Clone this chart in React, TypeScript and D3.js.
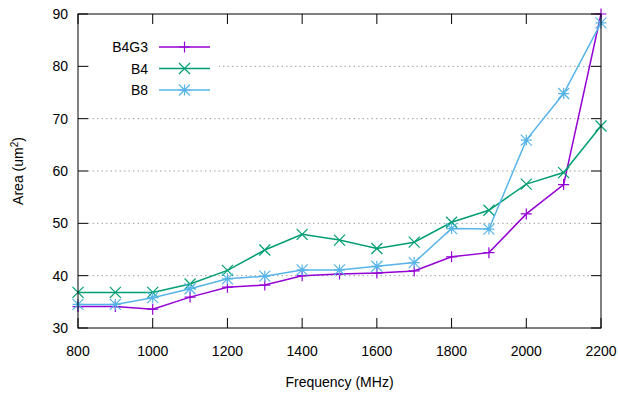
import React from "react";
import * as d3 from "d3";

const freqs = [800, 900, 1000, 1100, 1200, 1300, 1400, 1500, 1600, 1700, 1800, 1900, 2000, 2100, 2200];
const b4g3 = [34.1, 34.1, 33.6, 35.9, 37.8, 38.2, 40.0, 40.3, 40.5, 40.9, 43.6, 44.4, 51.8, 57.4, 90.0];
const b4 = [36.8, 36.8, 36.8, 38.4, 41.0, 44.9, 47.9, 46.8, 45.2, 46.4, 50.2, 52.5, 57.5, 59.7, 68.6];
const b8 = [34.5, 34.5, 35.8, 37.5, 39.4, 39.9, 41.1, 41.1, 41.8, 42.5, 49.0, 48.9, 65.9, 74.8, 88.3];
const xTicks = [800, 1000, 1200, 1400, 1600, 1800, 2000, 2200];
const yTicks = [30, 40, 50, 60, 70, 80, 90];
const seriesNames = ["B4G3", "B4", "B8"];
const seriesColors = ["#9400d3", "#009e73", "#56b4e9"];
const seriesMarkers = ["plus", "cross", "star"];
const seriesValues = [b4g3, b4, b8];

const W = 618, H = 397;
const left = 78, right = 601, top = 14, bottom = 328;
const font = "Liberation Sans, Arial, sans-serif";
const fs = 14;

function Marker({ kind, x, y, color }: { kind: string; x: number; y: number; color: string }) {
  const s = 5.5;
  const plus = `M${x - s},${y}H${x + s}M${x},${y - s}V${y + s}`;
  const cross = `M${x - s},${y - s}L${x + s},${y + s}M${x - s},${y + s}L${x + s},${y - s}`;
  const d = kind === "plus" ? plus : kind === "cross" ? cross : plus + cross;
  return <path d={d} stroke={color} strokeWidth={1.2} fill="none" />;
}

export default function App() {
  const x = d3.scaleLinear().domain([800, 2200]).range([left, right]);
  const y = d3.scaleLinear().domain([30, 90]).range([bottom, top]);
  const line = d3.line<number>().x((_, i) => x(freqs[i])).y((v) => y(v));
  const tick = 10;
  const legendTextX = 148;
  const legendLineX0 = 159, legendLineX1 = 210;
  const legendY0 = 47, legendDy = 21.5;

  return (
    <svg width={W} height={H} style={{ position: "absolute", left: 0, top: 0, background: "#fff" }} fontFamily={font}>
      {yTicks.slice(1, -1).map((t) => (
        <line key={"g" + t} x1={left + tick} x2={right - tick} y1={y(t)} y2={y(t)}
          stroke="#a0a0a0" strokeWidth={1} strokeDasharray="1.5,3" />
      ))}
      <rect x={left + tick + 1} y={legendY0 - 12} width={legendLineX1 + 8 - left - tick} height={legendDy * 3 + 4} fill="#fff" />
      {yTicks.map((t) => (
        <g key={"yt" + t}>
          <line x1={left} x2={left + tick} y1={y(t)} y2={y(t)} stroke="#000" />
          <line x1={right - tick} x2={right} y1={y(t)} y2={y(t)} stroke="#000" />
          <text x={left - 10} y={y(t) + 5} textAnchor="end" fontSize={fs} fill="#000">{t}</text>
        </g>
      ))}
      {xTicks.map((t) => (
        <g key={"xt" + t}>
          <line x1={x(t)} x2={x(t)} y1={bottom} y2={bottom - tick} stroke="#000" />
          <line x1={x(t)} x2={x(t)} y1={top} y2={top + tick} stroke="#000" />
          <text x={x(t)} y={bottom + 28} textAnchor="middle" fontSize={fs} fill="#000">{t}</text>
        </g>
      ))}
      {seriesValues.map((vals, si) => (
        <g key={"s" + si}>
          <path d={line(vals) || ""} fill="none" stroke={seriesColors[si]} strokeWidth={1.5} />
          {vals.map((v, i) => (
            <Marker key={i} kind={seriesMarkers[si]} x={x(freqs[i])} y={y(v)} color={seriesColors[si]} />
          ))}
        </g>
      ))}
      <rect x={left} y={top} width={right - left} height={bottom - top} fill="none" stroke="#000" strokeWidth={1} />
      {seriesNames.map((n, i) => {
        const ly = legendY0 + i * legendDy;
        return (
          <g key={"l" + n}>
            <text x={legendTextX} y={ly + 5} textAnchor="end" fontSize={fs} fill="#000">{n}</text>
            <line x1={legendLineX0} x2={legendLineX1} y1={ly} y2={ly} stroke={seriesColors[i]} strokeWidth={1.5} />
            <Marker kind={seriesMarkers[i]} x={(legendLineX0 + legendLineX1) / 2} y={ly} color={seriesColors[i]} />
          </g>
        );
      })}
      <text x={(left + right) / 2} y={386.5} textAnchor="middle" fontSize={fs} fill="#000">Frequency (MHz)</text>
      <text transform={`translate(22.5,${(top + bottom) / 2}) rotate(-90)`} textAnchor="middle" fontSize={fs} fill="#000">
        Area (um<tspan dy={-5} fontSize={10}>2</tspan><tspan dy={5}>)</tspan>
      </text>
    </svg>
  );
}
